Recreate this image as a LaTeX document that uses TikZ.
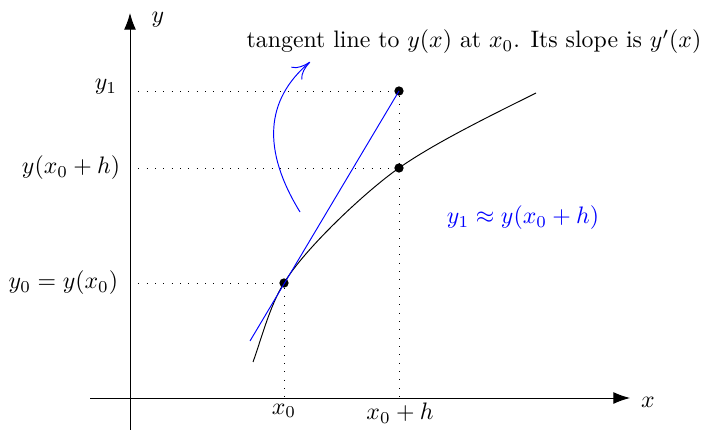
\documentclass[tikz,border=0pt]{standalone}
\usetikzlibrary{arrows.meta}
\begin{document}
\begin{tikzpicture}[x=0.42pt,y=-0.42pt,
  dotline/.style={dash pattern=on 0.4pt off 3.1pt},
  pt/.style={circle,fill=black,inner sep=0pt,minimum size=3.9pt},
  lbl/.style={inner sep=1pt},
  axis/.style={-{Latex[length=7pt,width=5pt]}},
  bluearrow/.style={blue,-{Computer Modern Rightarrow[length=7.5pt,width=7pt]}}]
\useasboundingbox (0,0) rectangle (704,430);
% axes
\coordinate (xs) at (90,398);
\coordinate (xe) at (630,398);
\coordinate (ys) at (130,430);
\coordinate (ye) at (130,13);
\draw[axis] (xs) -- (xe);
\draw[axis] (ys) -- (ye);
\node[lbl] (xl) at (648,402) {$x$};
\node[lbl] (yl) at (158,20) {$y$};
% points
\node[pt] (p0) at (284,283) {};
\node[pt] (p1) at (399,91) {};
\node[pt] (p2) at (399,168) {};
\coordinate (a1) at (130,91);
\coordinate (a2) at (130,168);
\coordinate (a0) at (130,283);
\coordinate (b0) at (284,398);
\coordinate (b1) at (399,398);
\draw[dotline] (a1) -- (p1);
\draw[dotline] (a2) -- (p2);
\draw[dotline] (a0) -- (p0);
\draw[dotline] (p0) -- (b0);
\draw[dotline] (p1) -- (b1);
% curve
\coordinate (cs) at (253,362);
\coordinate (ce) at (536,93);
\draw (cs) .. controls (261,340) and (270,305) .. (p0.center)
  .. controls (304.6,248.7) and (366,191) .. (p2.center)
  .. controls (436,142) and (496,113) .. (ce);
% tangent
\coordinate (t0) at (250,341);
\draw[blue] (t0) -- (p1.center);
% curved arrow
\coordinate (c0) at (300,212);
\coordinate (c1) at (310,62);
\draw[bluearrow] (c0) .. controls (262,150) and (265,100) .. (c1);
% labels
\node[lbl,anchor=east] (ly1) at (120,87) {$y_1$};
\node[lbl,anchor=east] (ly2) at (123,168) {$y(x_0+h)$};
\node[lbl,anchor=east] (ly0) at (121,283) {$y_0=y(x_0)$};
\node[lbl] (lx0) at (284,411) {$x_0$};
\node[lbl] (lx1) at (400,413) {$x_0+h$};
\node[lbl] (title) at (474,42) {tangent line to $y(x)$ at $x_0$. Its slope is $y'(x)$};
\node[lbl,blue] (approx) at (523,218) {$y_1\approx y(x_0+h)$};
\end{tikzpicture}
\end{document}
